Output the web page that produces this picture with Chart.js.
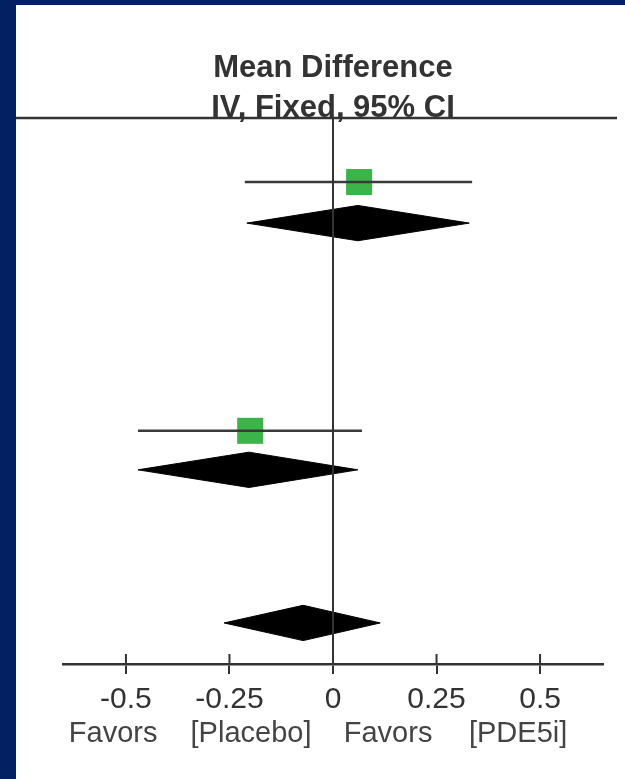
<!DOCTYPE html>
<html>
<head>
<meta charset="utf-8">
<script src="https://cdn.jsdelivr.net/npm/chart.js@4"></script>
<style>
  html, body { margin: 0; padding: 0; background: #022062; }
  body { width: 625px; height: 779px; position: relative; overflow: hidden; }
  #panel { position: absolute; left: 16px; top: 5px; width: 609px; height: 774px; background: #fff; }
</style>
</head>
<body>
<div id="panel"><canvas id="forest" width="609" height="774"></canvas></div>
<script>
// Study estimates (mean difference, 95% CI) and the row they sit on
const studyMean = [0.063, -0.2];
const studyLow = [-0.213, -0.471];
const studyHigh = [0.336, 0.070];
const studyRow = [1.56, 7.62];

// Pooled estimates (two subgroups + overall)
const poolMean = [0.06, -0.203, -0.072];
const poolLow = [-0.208, -0.471, -0.263];
const poolHigh = [0.329, 0.06, 0.114];
const poolRow = [2.56, 8.57, 12.3];

// Axis
const tickValues = [-0.5, -0.25, 0, 0.25, 0.5];
const tickLabels = ['-0.5', '-0.25', '0', '0.25', '0.5'];
const favorWords = ['Favors', '[Placebo]', 'Favors', '[PDE5i]'];
const favorAt = [-0.531, -0.198, 0.133, 0.447];
const titleLines = ['Mean Difference', 'IV, Fixed, 95% CI'];

const ink = '#333';
const green = '#3bb44a';
const diamondHalf = 0.43;
const rowMax = 13.3;
const fontFamily = '"Liberation Sans", Arial, sans-serif';

const datasets = [];

// line of no effect
datasets.push({
    data: [{ x: 0, y: 0 }, { x: 0, y: rowMax }],
    showLine: true, borderColor: ink, borderWidth: 2, pointRadius: 0,
});

// pooled diamonds
poolMean.forEach((m, i) => {
    const r = poolRow[i];
    datasets.push({
        data: [
            { x: poolLow[i], y: r },
            { x: m, y: r - diamondHalf },
            { x: poolHigh[i], y: r },
            { x: m, y: r + diamondHalf },
            { x: poolLow[i], y: r },
        ],
        showLine: true, fill: 'shape', tension: 0,
        borderColor: '#000', backgroundColor: '#000', borderWidth: 1, pointRadius: 0,
    });
});

// confidence intervals
studyMean.forEach((m, i) => {
    datasets.push({
        data: [{ x: studyLow[i], y: studyRow[i] }, { x: studyHigh[i], y: studyRow[i] }],
        showLine: true, borderColor: '#3a3a3a', borderWidth: 2.5, pointRadius: 0,
    });
});

// study squares
datasets.push({
    data: studyMean.map((m, i) => ({ x: m, y: studyRow[i] })),
    pointStyle: 'rect', pointRadius: 18.4, pointHoverRadius: 18.4,
    backgroundColor: green, borderColor: green, borderWidth: 0,
});

// top rule, upper half of tick marks and the "favors" words
const extras = {
    id: 'extras',
    afterDraw: (chart) => {
        const ctx = chart.ctx;
        const area = chart.chartArea;
        const xs = chart.scales.x;
        ctx.save();
        ctx.strokeStyle = ink;
        ctx.lineWidth = 2.5;
        ctx.beginPath();
        ctx.moveTo(0, area.top);
        ctx.lineTo(chart.width - 8, area.top);
        ctx.stroke();

        ctx.lineWidth = 2;
        tickValues.forEach((v) => {
            const px = xs.getPixelForValue(v);
            ctx.beginPath();
            ctx.moveTo(px, area.bottom);
            ctx.lineTo(px, area.bottom - 10);
            ctx.stroke();
        });

        ctx.fillStyle = '#444';
        ctx.font = '29px ' + fontFamily;
        ctx.textAlign = 'center';
        ctx.textBaseline = 'alphabetic';
        favorWords.forEach((w, i) => {
            ctx.fillText(w, xs.getPixelForValue(favorAt[i]), area.bottom + 78);
        });
        ctx.restore();
    }
};

new Chart(document.getElementById('forest'), {
    type: 'scatter',
    data: { datasets: datasets },
    plugins: [extras],
    options: {
        responsive: false,
        animation: false,
        events: [],
        layout: { padding: { left: 47, right: 22, top: 0, bottom: 0 } },
        plugins: {
            legend: { display: false },
            tooltip: { enabled: false },
            title: {
                display: true,
                text: titleLines,
                fullSize: false,
                color: ink,
                font: { family: fontFamily, size: 31, weight: 'bold', lineHeight: 40 / 31 },
                padding: { top: 43.5, bottom: -10.5 },
            },
        },
        scales: {
            x: {
                type: 'linear',
                min: -0.652,
                max: 0.652,
                afterBuildTicks: (scale) => { scale.ticks = tickValues.map((v) => ({ value: v })); },
                afterFit: (scale) => { scale.height = 115; },
                ticks: {
                    color: ink,
                    padding: 8,
                    maxRotation: 0,
                    autoSkip: false,
                    font: { family: fontFamily, size: 30 },
                    callback: (v) => tickLabels[tickValues.indexOf(v)],
                },
                border: { display: true, color: ink, width: 2.5 },
                grid: { drawOnChartArea: false, drawTicks: true, tickLength: 10, tickColor: ink, lineWidth: 2 },
            },
            y: {
                type: 'linear',
                display: false,
                reverse: true,
                min: 0,
                max: rowMax,
            },
        },
    },
});
</script>
</body>
</html>
